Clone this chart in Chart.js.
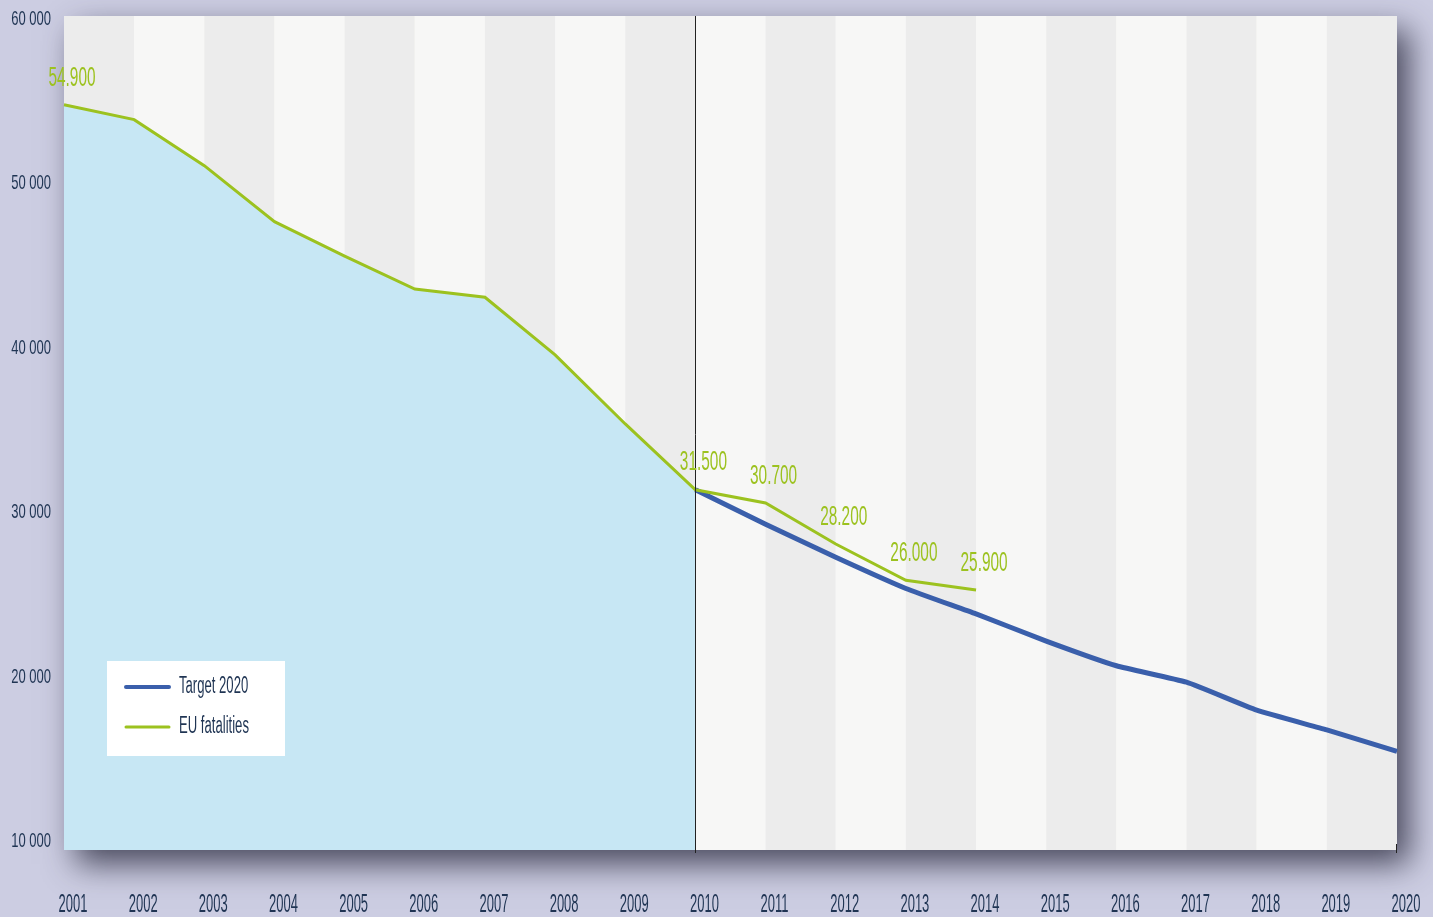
<!DOCTYPE html>
<html>
<head>
<meta charset="utf-8">
<script src="https://cdn.jsdelivr.net/npm/chart.js@4.4.1/dist/chart.umd.min.js"></script>
<style>
    html, body {margin: 0; padding: 0; background: #cccde2;}
    #wrap {width: 1433px; height: 917px; position: relative;}
</style>
</head>
<body>
<div id="wrap"><canvas id="chart"></canvas></div>
<script>
const years = ['2001', '2002', '2003', '2004', '2005', '2006', '2007', '2008', '2009', '2010',
    '2011', '2012', '2013', '2014', '2015', '2016', '2017', '2018', '2019', '2020'];
const fatalities = [54900, 54000, 51200, 47800, 45700, 43700, 43200, 39700, 35500, 31500,
    30700, 28200, 26000, 25400, null, null, null, null, null, null];
const fatalityLabels = ['54.900', null, null, null, null, null, null, null, null, '31.500',
    '30.700', '28.200', '26.000', '25.900', null, null, null, null, null, null];
const target = [null, null, null, null, null, null, null, null, null, 31500,
    29400, 27400, 25500, 23950, 22300, 20800, 19800, 18100, 16900, 15600];
const yTicks = [10000, 20000, 30000, 40000, 50000, 60000];

const NAVY = '#1f3453';
const GREEN = '#9cc21f';
const BLUE = '#3a5fab';
const FONT = '"Liberation Sans", Arial, sans-serif';

// area under fatalities until 2010 only
const areaData = fatalities.map((v, i) => i <= 9 ? v : null);

const fmt = v => String(v).replace(/\B(?=(\d{3})+(?!\d))/g, ' ');

// the source uses a very narrow typeface, so text is squeezed horizontally
function narrowText(ctx, text, x, y, size, color, align, sx) {
    ctx.save();
    ctx.translate(x, y);
    ctx.scale(sx, 1);
    ctx.font = size + 'px ' + FONT;
    ctx.fillStyle = color;
    ctx.textAlign = align;
    ctx.textBaseline = 'middle';
    ctx.fillText(text, 0, 0);
    ctx.restore();
}

const backdrop = {
    id: 'backdrop',
    beforeDraw(chart) {
        const {ctx, chartArea: a, scales: {x}} = chart;
        ctx.save();
        ctx.shadowColor = 'rgba(40, 40, 60, 0.8)';
        ctx.shadowBlur = 30;
        ctx.shadowOffsetX = 12;
        ctx.shadowOffsetY = 14;
        ctx.fillStyle = '#f7f7f6';
        ctx.fillRect(a.left, a.top, a.right - a.left, a.bottom - a.top);
        ctx.restore();
        ctx.save();
        for (let i = 0; i < years.length - 1; i++) {
            const x0 = x.getPixelForValue(i);
            const x1 = x.getPixelForValue(i + 1);
            ctx.fillStyle = i % 2 === 0 ? '#ececec' : '#f7f7f6';
            ctx.fillRect(x0, a.top, x1 - x0, a.bottom - a.top);
        }
        ctx.restore();
    },
    afterDraw(chart) {
        const {ctx, chartArea: a, scales: {x, y}} = chart;

        // axis labels
        y.ticks.forEach((t, i) => {
            narrowText(ctx, fmt(t.value), a.left - 13, y.getPixelForTick(i) - 2, 21, NAVY, 'right', 0.62);
        });
        x.ticks.forEach((t, i) => {
            narrowText(ctx, years[t.value], x.getPixelForTick(i) + 9, 905, 25, NAVY, 'center', 0.52);
        });

        const xm = x.getPixelForValue(years.indexOf('2010'));
        ctx.save();
        ctx.strokeStyle = '#222';
        ctx.lineWidth = 1;
        ctx.beginPath();
        ctx.moveTo(Math.round(xm) + 0.5, a.top);
        ctx.lineTo(Math.round(xm) + 0.5, a.bottom + 3);
        ctx.stroke();
        const xe = x.getPixelForValue(years.length - 1);
        ctx.beginPath();
        ctx.moveTo(Math.round(xe) - 0.5, a.bottom - 6);
        ctx.lineTo(Math.round(xe) - 0.5, a.bottom + 3);
        ctx.stroke();
        ctx.restore();

        // value labels on the fatalities line
        const meta = chart.getDatasetMeta(2);
        meta.data.forEach((pt, i) => {
            if (!fatalityLabels[i]) return;
            narrowText(ctx, fatalityLabels[i], pt.x + 8, pt.y - 27, 28, GREEN, 'center', 0.55);
        });

        // legend box
        const lx = a.left + 43, ly = 661;
        ctx.save();
        ctx.fillStyle = '#ffffff';
        ctx.fillRect(lx, ly, 178, 95);
        const items = [chart.data.datasets[1], chart.data.datasets[2]];
        items.forEach((ds, k) => {
            const yy = ly + 26 + k * 40;
            ctx.strokeStyle = ds.borderColor;
            ctx.lineWidth = k === 0 ? 4 : 3;
            ctx.lineCap = 'round';
            ctx.beginPath();
            ctx.moveTo(lx + 19, yy);
            ctx.lineTo(lx + 62, yy);
            ctx.stroke();
            narrowText(ctx, ds.label, lx + 72, yy, 23, NAVY, 'left', 0.57);
        });
        ctx.restore();
    }
};

new Chart(document.getElementById('chart'), {
    type: 'line',
    data: {
        labels: years,
        datasets: [{
            label: 'area',
            data: areaData,
            fill: 'start',
            backgroundColor: '#c7e7f4',
            borderWidth: 0,
            pointRadius: 0,
            order: 10
        }, {
            label: 'Target 2020',
            data: target,
            borderColor: BLUE,
            borderWidth: 5,
            tension: 0.15,
            fill: false,
            pointRadius: 0,
            order: 2
        }, {
            label: 'EU fatalities',
            data: fatalities,
            borderColor: GREEN,
            borderWidth: 3,
            fill: false,
            pointRadius: 0,
            order: 1
        }]
    },
    options: {
        responsive: true,
        maintainAspectRatio: false,
        animation: false,
        layout: {padding: {left: 0, top: 16, right: 36, bottom: 0}},
        plugins: {legend: {display: false}, tooltip: {enabled: false}},
        scales: {
            x: {
                offset: false,
                grid: {display: false, drawTicks: false},
                border: {display: false},
                ticks: {display: false, autoSkip: false, maxRotation: 0},
                afterFit: s => { s.height = 67; }
            },
            y: {
                min: 9600,
                max: 60300,
                grid: {display: false, drawTicks: false},
                border: {display: false},
                afterBuildTicks: s => { s.ticks = yTicks.map(v => ({value: v})); },
                ticks: {display: false},
                afterFit: s => { s.width = 64; }
            }
        }
    },
    plugins: [backdrop]
});
</script>
</body>
</html>
